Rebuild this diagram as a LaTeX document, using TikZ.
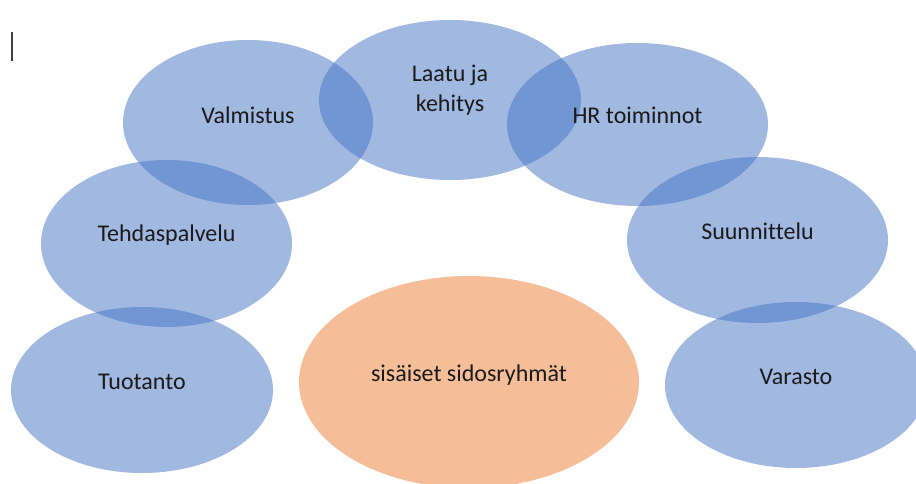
\documentclass[tikz,border=0pt]{standalone}
\usepackage{fontspec}
\setmainfont{Carlito}[Ligatures=NoCommon]
\usetikzlibrary{shapes.geometric}
\definecolor{blueacc}{HTML}{4472C4}
\definecolor{orangeacc}{HTML}{ED7D31}
\definecolor{txt}{HTML}{1A1A1A}
\tikzset{
  x=1pt, y=-1pt,
  blob/.style={ellipse, draw=none, fill=blueacc, fill opacity=0.5, inner sep=0pt, outer sep=0pt},
  core/.style={ellipse, draw=none, fill=orangeacc, fill opacity=0.5, inner sep=0pt, outer sep=0pt},
  lbl/.style={text=txt, inner sep=0pt, align=center, font=\fontsize{24}{29.5}\selectfont}
}
\begin{document}
\begin{tikzpicture}
\useasboundingbox (0,0) rectangle (916,484);
% cursor mark
\draw[line width=1.5pt, draw=black!75] (12,32) -- (12,61);
% ellipses
\node[blob, minimum width=250pt, minimum height=165pt] (val) at (248,122.5) {};
\node[blob, minimum width=262pt, minimum height=160pt] (laa) at (450,100) {};
\node[blob, minimum width=261pt, minimum height=163pt] (hr) at (637.5,124.5) {};
\node[blob, minimum width=251pt, minimum height=167pt] (teh) at (166.5,243.5) {};
\node[blob, minimum width=261pt, minimum height=166pt] (suu) at (757.5,240) {};
\node[blob, minimum width=262pt, minimum height=166pt] (tuo) at (142,390) {};
\node[blob, minimum width=262pt, minimum height=166pt] (var) at (796,385) {};
\node[core, minimum width=340pt, minimum height=212pt] (sis) at (469,382) {};
% labels
\node[lbl] (tval) at ([yshift=7.5pt]val.center) {Valmistus};
\node[lbl] (tlaa) at ([yshift=10pt]laa.center) {Laatu ja\\kehitys};
\node[lbl] (thr) at ([yshift=9.5pt]hr.center) {HR toiminnot};
\node[lbl] (tteh) at ([yshift=8.5pt]teh.center) {Tehdaspalvelu};
\node[lbl] (tsuu) at ([yshift=9pt]suu.center) {Suunnittelu};
\node[lbl] (ttuo) at ([yshift=8pt]tuo.center) {Tuotanto};
\node[lbl] (tvar) at ([yshift=8pt]var.center) {Varasto};
\node[lbl] (tsis) at ([yshift=7pt]sis.center) {sisäiset sidosryhmät};
\end{tikzpicture}
\end{document}
